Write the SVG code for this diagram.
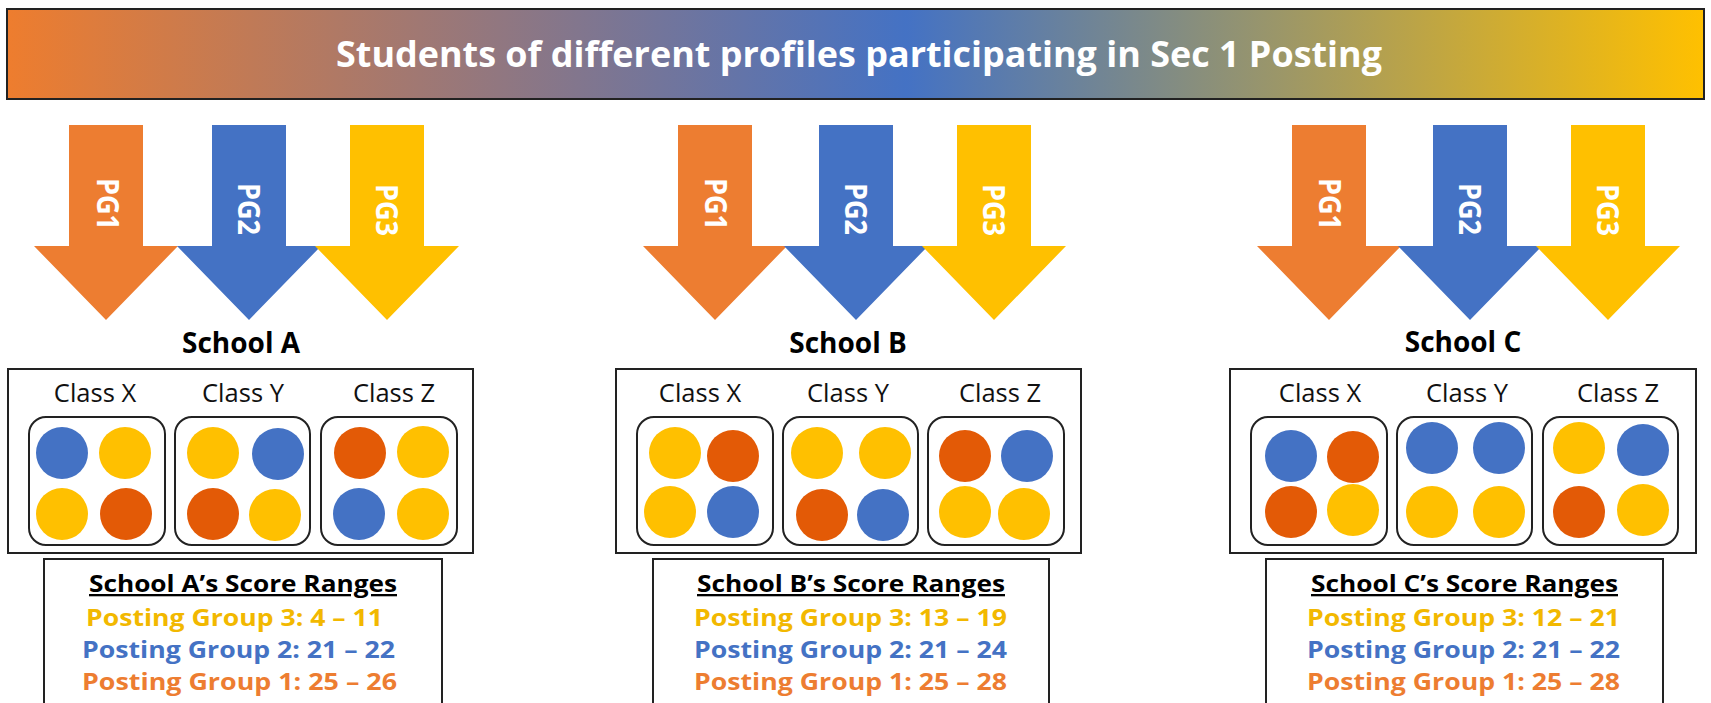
<svg xmlns="http://www.w3.org/2000/svg" width="1711" height="703" viewBox="0 0 1711 703">
<defs>
<linearGradient id="hdr" x1="0" y1="0" x2="1" y2="0">
<stop offset="0" stop-color="#EE7D2E"/>
<stop offset="0.53" stop-color="#4472C4"/>
<stop offset="1" stop-color="#FFC000"/>
</linearGradient>
<style>
text{font-family:"Open Sans","Noto Sans","Liberation Sans",sans-serif;}
.title{font-size:35px;font-weight:700;fill:#fff;}
.pg{font-size:31px;font-weight:700;fill:#fff;}
.school{font-size:28px;font-weight:700;fill:#000;}
.cls{font-size:25.5px;fill:#111;}
.st{font-size:23px;font-weight:700;fill:#000;text-decoration:underline;}
.l3{font-size:23px;font-weight:700;fill:#F2B800;}
.l2{font-size:23px;font-weight:700;fill:#4472C4;}
.l1{font-size:23px;font-weight:700;fill:#ED7D31;}
.box{fill:#fff;stroke:#222;stroke-width:2;}
.ibox{fill:#fff;stroke:#222;stroke-width:2;}
.ao{fill:#ED7D31;}
.ab{fill:#4472C4;}
.ay{fill:#FFC000;}
.b{fill:#4472C4;}
.y{fill:#FFC000;}
.o{fill:#E35A06;}
</style>
</defs>
<rect width="1711" height="703" fill="#fff"/>

<g id="header">
<rect x="7" y="9" width="1697" height="90" fill="url(#hdr)" stroke="#222" stroke-width="2"/>
<text class="title" x="859" y="67" text-anchor="middle" textLength="1046" lengthAdjust="spacingAndGlyphs">Students of different profiles participating in Sec 1 Posting</text>
</g>

<g id="schoolA">
<path class="ao" d="M69 125H143V246H178L106 320L34 246H69Z"/>
<path class="ab" d="M212 125H286V246H321L249 320L177 246H212Z"/>
<path class="ay" d="M350 125H424V246H459L387 320L315 246H350Z"/>
<text class="pg" x="109" y="204" text-anchor="middle" dominant-baseline="central" transform="rotate(90 109 204)" textLength="52" lengthAdjust="spacingAndGlyphs">PG1</text>
<text class="pg" x="250" y="209" text-anchor="middle" dominant-baseline="central" transform="rotate(90 250 209)" textLength="52" lengthAdjust="spacingAndGlyphs">PG2</text>
<text class="pg" x="388" y="210" text-anchor="middle" dominant-baseline="central" transform="rotate(90 388 210)" textLength="52" lengthAdjust="spacingAndGlyphs">PG3</text>
<text class="school" x="241" y="353" text-anchor="middle">School A</text>
<rect class="box" x="8" y="369" width="465" height="184"/>
<text class="cls" x="95" y="402" text-anchor="middle">Class X</text>
<text class="cls" x="243" y="402" text-anchor="middle">Class Y</text>
<text class="cls" x="394" y="402" text-anchor="middle">Class Z</text>
<rect class="ibox" x="29" y="417" width="136" height="128" rx="17"/>
<rect class="ibox" x="175" y="417" width="135" height="128" rx="17"/>
<rect class="ibox" x="321" y="417" width="136" height="128" rx="17"/>
<circle class="b" cx="62" cy="453" r="26"/>
<circle class="y" cx="125" cy="453" r="26"/>
<circle class="y" cx="62" cy="514" r="26"/>
<circle class="o" cx="126" cy="514" r="26"/>
<circle class="y" cx="213" cy="453" r="26"/>
<circle class="b" cx="278" cy="454" r="26"/>
<circle class="o" cx="213" cy="514" r="26"/>
<circle class="y" cx="275" cy="515" r="26"/>
<circle class="o" cx="360" cy="453" r="26"/>
<circle class="y" cx="423" cy="452" r="26"/>
<circle class="b" cx="359" cy="514" r="26"/>
<circle class="y" cx="423" cy="514" r="26"/>
<rect class="box" x="44" y="559" width="398" height="160"/>
<text class="st" x="89" y="592" textLength="308" lengthAdjust="spacingAndGlyphs">School A’s Score Ranges</text>
<text class="l3" x="86" y="626" textLength="297" lengthAdjust="spacingAndGlyphs">Posting Group 3: 4 – 11</text>
<text class="l2" x="82" y="658" textLength="313" lengthAdjust="spacingAndGlyphs">Posting Group 2: 21 – 22</text>
<text class="l1" x="82" y="690" textLength="315" lengthAdjust="spacingAndGlyphs">Posting Group 1: 25 – 26</text>
</g>

<g id="schoolB">
<path class="ao" d="M678 125H752V246H787L715 320L643 246H678Z"/>
<path class="ab" d="M819 125H893V246H928L856 320L784 246H819Z"/>
<path class="ay" d="M957 125H1031V246H1066L994 320L922 246H957Z"/>
<text class="pg" x="717" y="204" text-anchor="middle" dominant-baseline="central" transform="rotate(90 717 204)" textLength="52" lengthAdjust="spacingAndGlyphs">PG1</text>
<text class="pg" x="857" y="209" text-anchor="middle" dominant-baseline="central" transform="rotate(90 857 209)" textLength="52" lengthAdjust="spacingAndGlyphs">PG2</text>
<text class="pg" x="995" y="210" text-anchor="middle" dominant-baseline="central" transform="rotate(90 995 210)" textLength="52" lengthAdjust="spacingAndGlyphs">PG3</text>
<text class="school" x="848" y="353" text-anchor="middle">School B</text>
<rect class="box" x="616" y="369" width="465" height="184"/>
<text class="cls" x="700" y="402" text-anchor="middle">Class X</text>
<text class="cls" x="848" y="402" text-anchor="middle">Class Y</text>
<text class="cls" x="1000" y="402" text-anchor="middle">Class Z</text>
<rect class="ibox" x="637" y="417" width="136" height="128" rx="17"/>
<rect class="ibox" x="783" y="417" width="135" height="128" rx="17"/>
<rect class="ibox" x="928" y="417" width="136" height="128" rx="17"/>
<circle class="y" cx="675" cy="453" r="26"/>
<circle class="o" cx="733" cy="456" r="26"/>
<circle class="y" cx="670" cy="512" r="26"/>
<circle class="b" cx="733" cy="512" r="26"/>
<circle class="y" cx="817" cy="453" r="26"/>
<circle class="y" cx="885" cy="453" r="26"/>
<circle class="o" cx="822" cy="515" r="26"/>
<circle class="b" cx="883" cy="515" r="26"/>
<circle class="o" cx="965" cy="456" r="26"/>
<circle class="b" cx="1027" cy="456" r="26"/>
<circle class="y" cx="965" cy="512" r="26"/>
<circle class="y" cx="1024" cy="514" r="26"/>
<rect class="box" x="653" y="559" width="396" height="160"/>
<text class="st" x="697" y="592" textLength="308" lengthAdjust="spacingAndGlyphs">School B’s Score Ranges</text>
<text class="l3" x="694" y="626" textLength="313" lengthAdjust="spacingAndGlyphs">Posting Group 3: 13 – 19</text>
<text class="l2" x="694" y="658" textLength="313" lengthAdjust="spacingAndGlyphs">Posting Group 2: 21 – 24</text>
<text class="l1" x="694" y="690" textLength="313" lengthAdjust="spacingAndGlyphs">Posting Group 1: 25 – 28</text>
</g>

<g id="schoolC">
<path class="ao" d="M1292 125H1366V246H1401L1329 320L1257 246H1292Z"/>
<path class="ab" d="M1433 125H1507V246H1542L1470 320L1398 246H1433Z"/>
<path class="ay" d="M1571 125H1645V246H1680L1608 320L1536 246H1571Z"/>
<text class="pg" x="1331" y="204" text-anchor="middle" dominant-baseline="central" transform="rotate(90 1331 204)" textLength="52" lengthAdjust="spacingAndGlyphs">PG1</text>
<text class="pg" x="1471" y="209" text-anchor="middle" dominant-baseline="central" transform="rotate(90 1471 209)" textLength="52" lengthAdjust="spacingAndGlyphs">PG2</text>
<text class="pg" x="1609" y="210" text-anchor="middle" dominant-baseline="central" transform="rotate(90 1609 210)" textLength="52" lengthAdjust="spacingAndGlyphs">PG3</text>
<text class="school" x="1463" y="352" text-anchor="middle">School C</text>
<rect class="box" x="1230" y="369" width="466" height="184"/>
<text class="cls" x="1320" y="402" text-anchor="middle">Class X</text>
<text class="cls" x="1467" y="402" text-anchor="middle">Class Y</text>
<text class="cls" x="1618" y="402" text-anchor="middle">Class Z</text>
<rect class="ibox" x="1251" y="417" width="136" height="128" rx="17"/>
<rect class="ibox" x="1397" y="417" width="135" height="128" rx="17"/>
<rect class="ibox" x="1543" y="417" width="135" height="128" rx="17"/>
<circle class="b" cx="1291" cy="456" r="26"/>
<circle class="o" cx="1353" cy="457" r="26"/>
<circle class="o" cx="1291" cy="512" r="26"/>
<circle class="y" cx="1353" cy="510" r="26"/>
<circle class="b" cx="1432" cy="448" r="26"/>
<circle class="b" cx="1499" cy="448" r="26"/>
<circle class="y" cx="1432" cy="512" r="26"/>
<circle class="y" cx="1499" cy="512" r="26"/>
<circle class="y" cx="1579" cy="448" r="26"/>
<circle class="b" cx="1643" cy="450" r="26"/>
<circle class="o" cx="1579" cy="512" r="26"/>
<circle class="y" cx="1643" cy="510" r="26"/>
<rect class="box" x="1266" y="559" width="397" height="160"/>
<text class="st" x="1311" y="592" textLength="307" lengthAdjust="spacingAndGlyphs">School C’s Score Ranges</text>
<text class="l3" x="1307" y="626" textLength="313" lengthAdjust="spacingAndGlyphs">Posting Group 3: 12 – 21</text>
<text class="l2" x="1307" y="658" textLength="313" lengthAdjust="spacingAndGlyphs">Posting Group 2: 21 – 22</text>
<text class="l1" x="1307" y="690" textLength="313" lengthAdjust="spacingAndGlyphs">Posting Group 1: 25 – 28</text>
</g>

<g id="connectors"></g>
</svg>
